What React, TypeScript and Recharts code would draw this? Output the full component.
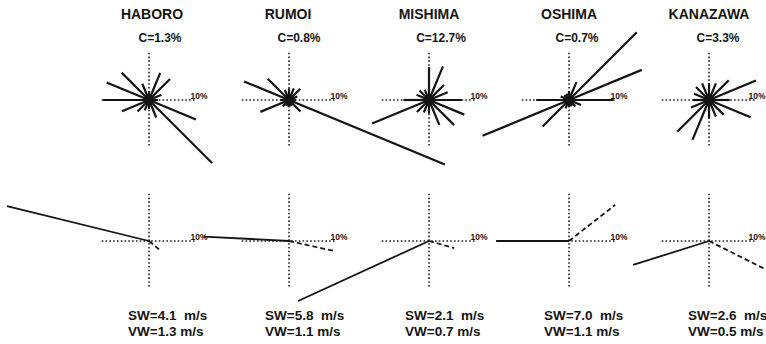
import React from 'react';
import { ScatterChart, Scatter, XAxis, YAxis } from 'recharts';

// wind rose: % frequency per direction, N clockwise in 22.5 deg steps
const DIRS = ['N', 'NNE', 'NE', 'ENE', 'E', 'ESE', 'SE', 'SSE', 'S', 'SSW', 'SW', 'WSW', 'W', 'WNW', 'NW', 'NNW'];

const STATIONS = ['HABORO', 'RUMOI', 'MISHIMA', 'OSHIMA', 'KANAZAWA'];
const CALM = ['1.3', '0.8', '12.7', '0.7', '3.3'];

const HABORO_ROSE = [2, 6.5, 6.6, 3, 2, 11.3, 19.8, 4.2, 2, 2.5, 3.6, 6.5, 10.2, 10.2, 8.6, 3.9];
const RUMOI_ROSE = [2.6, 2.8, 3.5, 2, 1.5, 37.5, 3.6, 1.5, 1.5, 1.5, 2, 6.9, 2, 10.8, 6.7, 2.4];
const MISHIMA_ROSE = [7.3, 8.1, 4.7, 4.5, 7.3, 8.5, 7.9, 6, 3, 3, 3.8, 13.7, 5.7, 3, 3, 2.5];
const OSHIMA_ROSE = [2, 4.3, 21.3, 17.5, 9.8, 2.9, 2, 1.5, 1.5, 2, 8.3, 20.8, 7.3, 2, 1.5, 1.5];
const KANAZAWA_ROSE = [3.8, 4, 6.2, 11.3, 4.6, 10, 4.6, 4, 4, 9.6, 10, 4.3, 3.6, 3.6, 4.1, 4];
const ROSES = [HABORO_ROSE, RUMOI_ROSE, MISHIMA_ROSE, OSHIMA_ROSE, KANAZAWA_ROSE];

// lower row: resultant vectors (bearing deg, length %)
const SW_BEARING = [283.8, 273, 245.4, 270, 252.5];
const SW_LENGTH = [32.5, 19, 32, 16.2, 17.7];
const VW_BEARING = [129.8, 102.5, 105.6, 52, 116.6];
const VW_LENGTH = [3.5, 10.2, 5.8, 13, 14.4];
const SW_SPEED = ['4.1', '5.8', '2.1', '7.0', '2.6'];
const VW_SPEED = ['1.3', '1.1', '0.7', '1.1', '0.5'];

const W = 766;
const H = 344;
const PX = 4.5; // px per 1 %
const AXIS_PCT = 10.5;
const COL_X = [149, 289, 429, 569, 709];
const TOP_Y = 100;
const BOT_Y = 241;
const TITLE_X = [152, 288, 429, 569, 709];
const CALM_X = [160, 299, 441, 577, 718];
const SPEED_X = [128, 265, 405, 544, 688];
const TEN_X = [199, 339, 479, 619, 757];

const INK = '#141414';
const FONT = '"Liberation Sans", Arial, sans-serif';

const polar = (cx: number, cy: number, bearing: number, pct: number) => {
  const a = (bearing * Math.PI) / 180;
  return { x: cx + pct * PX * Math.sin(a), y: cy - pct * PX * Math.cos(a) };
};

const noDot = () => <g />;

type Seg = { key: string; data: { x: number; y: number }[]; line: any };

const segs: Seg[] = [];
const dotted = { stroke: '#1e1e1e', strokeWidth: 1.6, strokeDasharray: '1.6 2.2' };

COL_X.forEach((cx, i) => {
  [TOP_Y, BOT_Y].forEach((cy, r) => {
    segs.push({ key: `h${i}${r}`, data: [polar(cx, cy, 270, AXIS_PCT), polar(cx, cy, 90, AXIS_PCT)], line: dotted });
    segs.push({ key: `v${i}${r}`, data: [polar(cx, cy, 0, AXIS_PCT), polar(cx, cy, 180, AXIS_PCT)], line: dotted });
  });
  ROSES[i].forEach((v, j) => {
    segs.push({
      key: `r${i}-${DIRS[j]}`,
      data: [{ x: cx, y: TOP_Y }, polar(cx, TOP_Y, j * 22.5, v)],
      line: { stroke: INK, strokeWidth: 2.2 },
    });
  });
  segs.push({
    key: `sw${i}`,
    data: [{ x: cx, y: BOT_Y }, polar(cx, BOT_Y, SW_BEARING[i], SW_LENGTH[i])],
    line: { stroke: INK, strokeWidth: 1.8 },
  });
  segs.push({
    key: `vw${i}`,
    data: [{ x: cx, y: BOT_Y }, polar(cx, BOT_Y, VW_BEARING[i], VW_LENGTH[i])],
    line: { stroke: INK, strokeWidth: 1.8, strokeDasharray: '5 3' },
  });
});

const centers = COL_X.map((cx) => ({ x: cx, y: TOP_Y }));

const txt = (x: number, y: number, size: number, weight: number, center = true): React.CSSProperties => ({
  position: 'absolute',
  left: x,
  top: y,
  transform: center ? 'translate(-50%, -50%)' : 'translate(0, -50%)',
  fontSize: size,
  fontWeight: weight,
  lineHeight: 1,
  whiteSpace: 'pre',
  color: INK,
});

export default function App() {
  return (
    <div style={{ position: 'absolute', left: 0, top: 0, width: W, height: H, background: '#fff', fontFamily: FONT }}>
      <ScatterChart width={W} height={H} margin={{ top: 0, right: 0, bottom: 0, left: 0 }}>
        <XAxis type="number" dataKey="x" domain={[0, W]} allowDataOverflow hide />
        <YAxis type="number" dataKey="y" domain={[0, H]} allowDataOverflow reversed hide />
        {segs.map((s) => (
          <Scatter key={s.key} data={s.data} line={s.line} shape={noDot} isAnimationActive={false} />
        ))}
        <Scatter
          data={centers}
          fill={INK}
          shape={(p: any) => <circle cx={p.cx} cy={p.cy} r={4.5} fill={INK} />}
          isAnimationActive={false}
        />
      </ScatterChart>
      {STATIONS.map((name, i) => (
        <React.Fragment key={name}>
          <div style={txt(TITLE_X[i], 14, 14, 700)}>{name}</div>
          <div style={txt(CALM_X[i], 38, 12, 700)}>{`C=${CALM[i]}%`}</div>
          <div style={txt(TEN_X[i], TOP_Y - 4, 8.5, 700)}>10%</div>
          <div style={txt(TEN_X[i], BOT_Y - 4, 8.5, 700)}>10%</div>
          <div style={txt(SPEED_X[i], 316, 13.5, 600, false)}>{`SW=${SW_SPEED[i]}  m/s`}</div>
          <div style={txt(SPEED_X[i], 332, 13.5, 600, false)}>{`VW=${VW_SPEED[i]} m/s`}</div>
        </React.Fragment>
      ))}
    </div>
  );
}
